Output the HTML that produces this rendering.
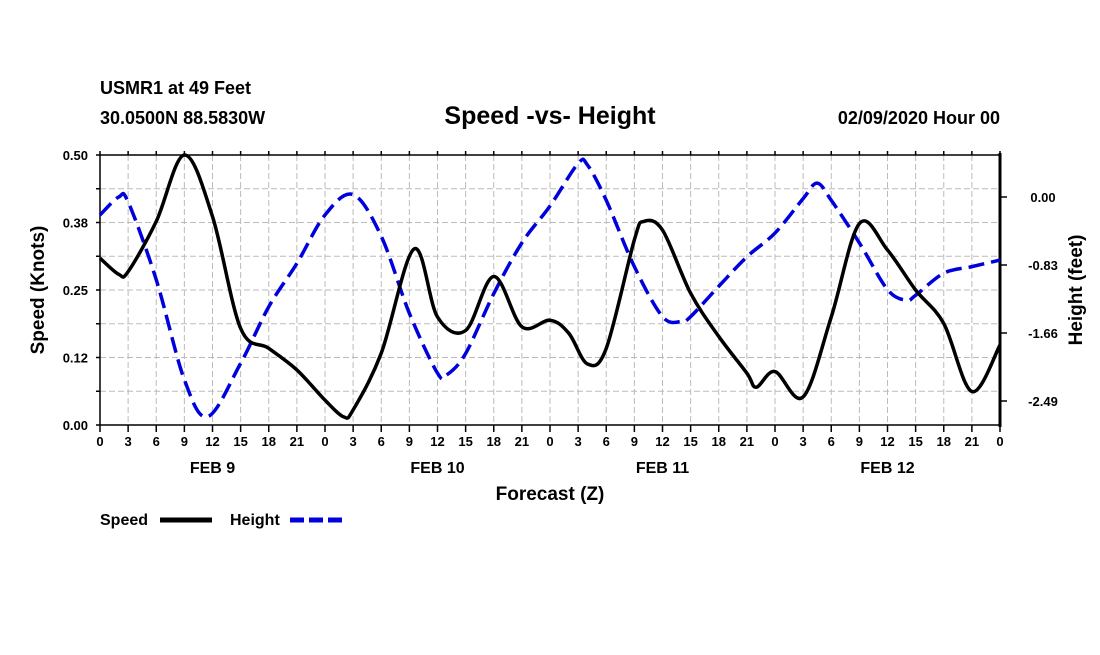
<!DOCTYPE html>
<html><head><meta charset="utf-8"><style>
body{margin:0;background:#fff;}
svg text{font-family:"Liberation Sans",sans-serif;font-weight:bold;fill:#000;}
</style></head><body>
<svg id="chart" width="1100" height="650" viewBox="0 0 1100 650" xmlns="http://www.w3.org/2000/svg">
<rect width="1100" height="650" fill="#fff"/>
<text x="100" y="94" font-size="18">USMR1 at 49 Feet</text>
<text x="100" y="124" font-size="18">30.0500N 88.5830W</text>
<text x="550" y="124" font-size="25" text-anchor="middle">Speed -vs- Height</text>
<text x="1000" y="124" font-size="18" text-anchor="end">02/09/2020 Hour 00</text>
<g id="grid"></g>
<g id="axes"></g>
<g id="series"></g>
<text transform="translate(44,290) rotate(-90)" font-size="19" text-anchor="middle">Speed (Knots)</text>
<text transform="translate(1082,290) rotate(-90)" font-size="19" text-anchor="middle">Height (feet)</text>
<text x="550" y="500" font-size="19" text-anchor="middle">Forecast (Z)</text>
<g>
<text x="100" y="525" font-size="16">Speed</text>
<line x1="160" y1="520" x2="212" y2="520" stroke="#000" stroke-width="5"/>
<text x="230" y="525" font-size="16">Height</text>
<line x1="290" y1="520" x2="342" y2="520" stroke="#0000dd" stroke-width="5" stroke-dasharray="14,5"/>
</g>
</svg>
<script>
const speedHours=[0,2,3,6,9,12,15,18,21,24,26,27,30,33.5,36,39,42,45,48,50,52,54,57,58,60,63,66,69,70,72,75,78,81,84,87,90,93,96];
const speedValues=[0.309,0.279,0.284,0.377,0.50,0.386,0.179,0.142,0.102,0.046,0.015,0.028,0.133,0.326,0.20,0.175,0.275,0.182,0.194,0.170,0.113,0.142,0.343,0.377,0.361,0.244,0.164,0.096,0.07,0.099,0.052,0.20,0.373,0.324,0.25,0.188,0.062,0.148];
const heightHours=[0,2,3,6,9,11.5,15,18,21,24,27,30,33,36,37,39,42,45,48,51,52,54,57,60,62,63,66,69,72,75,76.5,78,81,84,86,87,90,93,96];
const heightValues=[-0.22,0.0,-0.06,-1.01,-2.23,-2.68,-2.03,-1.34,-0.81,-0.22,0.03,-0.48,-1.42,-2.15,-2.17,-1.91,-1.18,-0.56,-0.11,0.41,0.39,-0.04,-0.85,-1.46,-1.52,-1.46,-1.09,-0.73,-0.44,-0.02,0.17,-0.04,-0.56,-1.13,-1.26,-1.20,-0.93,-0.85,-0.77];
const xTickLabels=["0","3","6","9","12","15","18","21"];
const dayLabels=["FEB 9","FEB 10","FEB 11","FEB 12"];
const leftTicks=[0,0.125,0.25,0.375,0.5];
const leftTickLabels=["0.00","0.12","0.25","0.38","0.50"];
const rightTicks=[0,-0.83,-1.66,-2.49];
const rightTickLabels=["0.00","-0.83","-1.66","-2.49"];

const L=100,R=1000,T=155,B=425;
const NS="http://www.w3.org/2000/svg";
const x=h=>L+h*(R-L)/96;
const yS=v=>B-v/0.5*(B-T);
const yH=v=>197-v/0.83*68;
function mk(tag,attrs,parent){const e=document.createElementNS(NS,tag);for(const k in attrs)e.setAttribute(k,attrs[k]);parent.appendChild(e);return e;}
const grid=document.getElementById('grid'),axes=document.getElementById('axes'),series=document.getElementById('series');
for(let h=3;h<96;h+=3){
 const g=mk('line',{x1:x(h),y1:T,x2:x(h),y2:B,stroke:'#bbb','stroke-width':1,'stroke-dasharray':'6,3'},grid);
 
 
}
for(let i=1;i<8;i++){
 const g=mk('line',{x1:L,y1:yS(i*0.0625),x2:R,y2:yS(i*0.0625),stroke:'#bbb','stroke-width':1,'stroke-dasharray':'6,3'},grid);
 
 
}
mk('rect',{x:L,y:T,width:R-L,height:B-T,fill:'none',stroke:'#000','stroke-width':1.5},axes);
mk('line',{x1:R,y1:T-2,x2:R,y2:B+2,stroke:'#000','stroke-width':3},axes);
for(let h=0;h<=96;h+=3){
 mk('line',{x1:x(h),y1:B,x2:x(h),y2:B+7,stroke:'#000','stroke-width':1.5},axes);
 mk('line',{x1:x(h),y1:T,x2:x(h),y2:T-4,stroke:'#000','stroke-width':1.5},axes);
 const t=mk('text',{x:x(h),y:B+21,'font-size':13,'text-anchor':'middle'},axes);
 t.textContent=h===96?"0":xTickLabels[(h%24)/3];
 
 
}
dayLabels.forEach((d,i)=>{
 const t=mk('text',{x:x(i*24+12),y:B+48,'font-size':16,'text-anchor':'middle'},axes);
 t.textContent=d;
 
 
});
for(let i=0;i<=8;i++){mk('line',{x1:L-4,y1:yS(i*0.0625),x2:L,y2:yS(i*0.0625),stroke:'#000','stroke-width':1.5},axes);}
leftTicks.forEach((v,i)=>{
 const t=mk('text',{x:L-12,y:yS(v)+5,'font-size':13,'text-anchor':'end'},axes);
 t.textContent=leftTickLabels[i];
 
 
});
rightTicks.forEach((v,i)=>{
 mk('line',{x1:R,y1:yH(v),x2:R+7,y2:yH(v),stroke:'#000','stroke-width':1.5},axes);
 const t=mk('text',{x:1043,y:yH(v)+5,'font-size':13,'text-anchor':'middle'},axes);
 t.textContent=rightTickLabels[i];
 
 
});
function smooth(pts){
 let d=`M${pts[0][0]},${pts[0][1]}`;
 for(let i=0;i<pts.length-1;i++){
  const p0=pts[Math.max(0,i-1)],p1=pts[i],p2=pts[i+1],p3=pts[Math.min(pts.length-1,i+2)];
  const c1=[p1[0]+(p2[0]-p0[0])/6,p1[1]+(p2[1]-p0[1])/6],c2=[p2[0]-(p3[0]-p1[0])/6,p2[1]-(p3[1]-p1[1])/6];
  d+=`C${c1[0]},${c1[1]} ${c2[0]},${c2[1]} ${p2[0]},${p2[1]}`;
 }
 return d;
}
const hp=mk('path',{d:smooth(heightHours.map((h,i)=>[x(h),yH(heightValues[i])])),fill:'none',stroke:'#0000dd','stroke-width':3.5,'stroke-dasharray':'16,7'},series);


const sp=mk('path',{d:smooth(speedHours.map((h,i)=>[x(h),yS(speedValues[i])])),fill:'none',stroke:'#000','stroke-width':3.5},series);


</script>
</body></html>
